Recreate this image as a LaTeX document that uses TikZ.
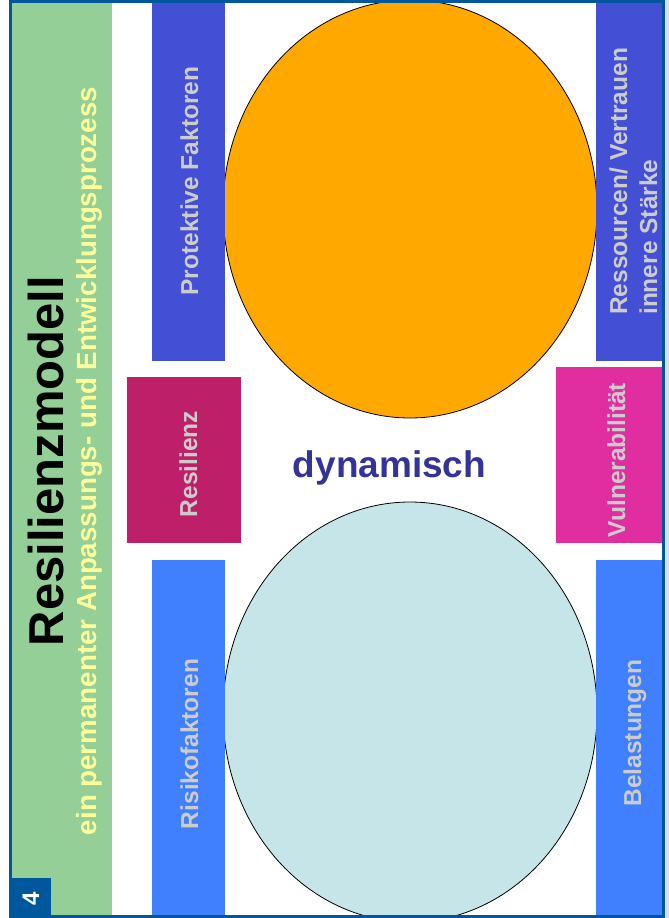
\documentclass[tikz,border=0pt]{standalone}
\usepackage{fontspec}
\setmainfont{Liberation Sans}
\usepackage{tikz}
\pgfdeclarelayer{bg}
\pgfsetlayers{bg,main}
\definecolor{frameblue}{RGB}{0,87,155}
\definecolor{bandgreen}{RGB}{147,207,150}
\definecolor{subyellow}{RGB}{255,255,153}
\definecolor{violetblue}{RGB}{67,80,213}
\definecolor{skyblue}{RGB}{64,128,255}
\definecolor{resred}{RGB}{190,31,105}
\definecolor{vulpink}{RGB}{224,46,160}
\definecolor{ovalorange}{RGB}{255,168,0}
\definecolor{ovalblue}{RGB}{198,229,232}
\definecolor{dynblue}{RGB}{51,51,153}
\definecolor{boxtext}{RGB}{204,204,204}
\definecolor{edgegrey}{RGB}{214,224,236}

\begin{document}
\begin{tikzpicture}[x=1pt, y=-1pt,
        bar/.style={inner sep=0pt, outer sep=0pt, anchor=north west},
        vtext/.style={rotate=90, anchor=base, text=boxtext, inner sep=0pt,
                font=\fontsize{24.5}{29}\selectfont\bfseries}]
        \useasboundingbox (0,0) rectangle (669,918);
        \fill [edgegrey] (665,0) rectangle (669,918);
        \begin{pgfonlayer}{bg}
                \draw [fill=ovalorange, line width=0.8pt] (410,209) ellipse [x radius=187, y radius=209];
                \draw [fill=ovalblue, line width=0.8pt] (410,712) ellipse [x radius=187, y radius=210];
        \end{pgfonlayer}
        % left band with title
        \node (g0) [bar, fill=bandgreen, minimum width=100pt, minimum height=912pt] at (12,3) {};
        \node (h0) [rotate=90, anchor=base, inner sep=0pt, font=\fontsize{49}{55}\selectfont\bfseries] at (63,461) {Resilienzmodell};
        \node (h1) [rotate=90, anchor=base, inner sep=0pt, text=subyellow, font=\fontsize{27.7}{32}\selectfont\bfseries] at (96,461) {ein permanenter Anpassungs- und Entwicklungsprozess};
        % boxes
        \node (b0) [bar, fill=violetblue, minimum width=73pt, minimum height=358pt] at (152,3) {};
        \node (b1) [bar, fill=resred, minimum width=114pt, minimum height=166pt] at (127,377) {};
        \node (b2) [bar, fill=skyblue, minimum width=73pt, minimum height=358pt] at (152,560) {};
        \node (b3) [bar, fill=violetblue, minimum width=68pt, minimum height=358pt] at (596,3) {};
        \node (b4) [bar, fill=vulpink, minimum width=108pt, minimum height=176pt] at (556,367) {};
        \node (b5) [bar, fill=skyblue, minimum width=68pt, minimum height=358pt] at (596,560) {};
        \node (t0) [vtext] at (198,181) {Protektive Faktoren};
        \node (t1) [vtext] at (197,464) {Resilienz};
        \node (t2) [vtext] at (198,744) {Risikofaktoren};
        \node (t3) [vtext, anchor=base west] at (627,315) {Ressourcen/ Vertrauen};
        \node (t4) [vtext, anchor=base west] at (657,315) {innere Stärke};
        \node (t5) [vtext] at (625,460) {Vulnerabilität};
        \node (t6) [vtext] at (641,733) {Belastungen};
        \node (d0) [anchor=base, inner sep=0pt, text=dynblue, font=\fontsize{37}{44}\selectfont\bfseries] at (389.5,477) {dynamisch};
        % frame and page number
        \draw [frameblue, line width=3pt] (10.5,1.5) rectangle (663.5,916.5);
        \node (n0) [bar, fill=frameblue, minimum width=42pt, minimum height=40pt] at (9,878) {};
        \node (n1) [rotate=90, anchor=base, inner sep=0pt, text=white, font=\fontsize{24}{28}\selectfont\bfseries] at (39,899) {4};
\end{tikzpicture}
\end{document}
